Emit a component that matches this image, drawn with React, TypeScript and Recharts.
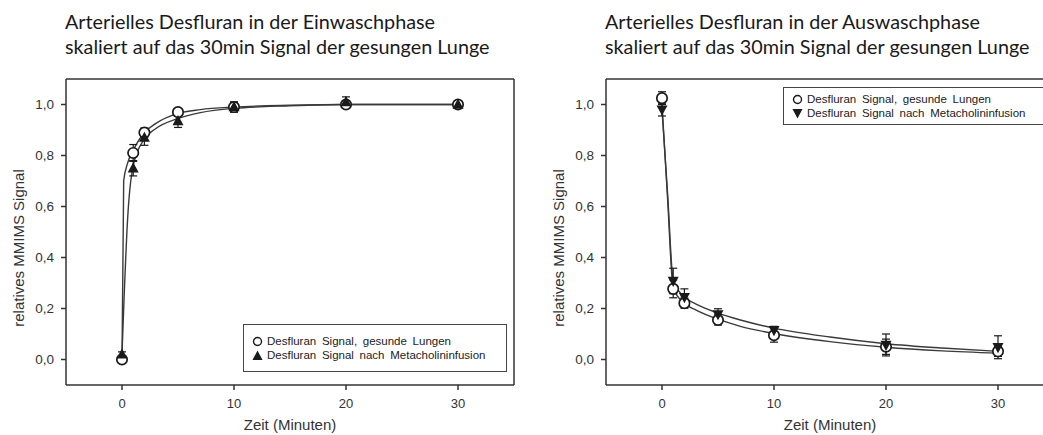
import React from "react";
import {
    ComposedChart,
    Line,
    Scatter,
    XAxis,
    YAxis,
    ErrorBar,
    ReferenceLine,
} from "recharts";

// Messzeitpunkte (Minuten)
const zeit = [0, 1, 2, 5, 10, 20, 30];

// Einwaschphase
const einGesund = [0.0, 0.81, 0.89, 0.97, 0.99, 1.0, 1.0];
const einGesundErr = [0.01, 0.033, 0.018, 0.012, 0.02, 0.012, 0.008];
const einMetacholin = [0.02, 0.75, 0.87, 0.935, 0.99, 1.01, 1.0];
const einMetacholinErr = [0.01, 0.03, 0.03, 0.025, 0.02, 0.02, 0.008];

// Auswaschphase
const ausGesund = [1.025, 0.277, 0.221, 0.155, 0.095, 0.05, 0.032];
const ausGesundErr = [0.025, 0.035, 0.02, 0.02, 0.027, 0.03, 0.02];
const ausMetacholin = [0.98, 0.308, 0.244, 0.177, 0.115, 0.057, 0.048];
const ausMetacholinErr = [0.025, 0.05, 0.033, 0.022, 0.015, 0.043, 0.045];

// Regressionskurven
const fitZeitEin = [0, 0.15, 0.5, 1, 2, 3, 5, 7, 10, 15, 20, 30];
const fitEinGesund = [0.0, 0.7, 0.77, 0.82, 0.89, 0.925, 0.965, 0.98, 0.99, 0.997, 1.0, 1.0];
const fitEinMetacholin = [0.02, 0.2, 0.55, 0.76, 0.865, 0.905, 0.945, 0.968, 0.985, 0.995, 1.0, 1.0];

const fitZeitAus = [0, 0.5, 1, 2, 3, 5, 7, 10, 15, 20, 25, 30];
const fitAusGesund = [1.0, 0.63, 0.28, 0.22, 0.195, 0.158, 0.13, 0.102, 0.07, 0.048, 0.034, 0.025];
const fitAusMetacholin = [0.98, 0.65, 0.31, 0.245, 0.218, 0.182, 0.155, 0.123, 0.088, 0.062, 0.045, 0.032];

const xTicks = [0, 10, 20, 30];
const yTicks = [0, 0.2, 0.4, 0.6, 0.8, 1.0];

const legendGesund = "Desfluran Signal, gesunde Lungen";
const legendMetacholin = "Desfluran Signal nach Metacholininfusion";

const rows = (xs: number[], ys: number[], es?: number[]) =>
    xs.map((t, i) => ({ t, v: ys[i], e: es ? es[i] : 0 }));

const INK = "#1a1a1a";
const AXIS_FONT = "'Liberation Sans', Arial, sans-serif";

const OpenCircle = (p: any) => (
    <circle cx={p.cx} cy={p.cy} r={5.2} fill="#fff" stroke={INK} strokeWidth={1.7} />
);
const TriUp = (p: any) => (
    <path d={`M${p.cx},${p.cy - 6} L${p.cx + 5.5},${p.cy + 4.2} L${p.cx - 5.5},${p.cy + 4.2} Z`} fill={INK} />
);
const TriDown = (p: any) => (
    <path d={`M${p.cx},${p.cy + 6} L${p.cx + 5.5},${p.cy - 4.2} L${p.cx - 5.5},${p.cy - 4.2} Z`} fill={INK} />
);

function LegendBox({ style, down }: { style: React.CSSProperties; down?: boolean }) {
    const sym = (kind: string) => (
        <svg width={11} height={11} style={{ marginRight: 4, flex: "none" }}>
            {kind === "o" && <circle cx={5.5} cy={5.5} r={4} fill="#fff" stroke={INK} strokeWidth={1.4} />}
            {kind === "up" && <path d="M5.5,0.5 L10.5,10 L0.5,10 Z" fill={INK} />}
            {kind === "down" && <path d="M5.5,10.5 L10.5,1 L0.5,1 Z" fill={INK} />}
        </svg>
    );
    return (
        <div
            style={{
                position: "absolute",
                border: "1.5px solid #444",
                background: "#fff",
                boxSizing: "border-box",
                fontFamily: AXIS_FONT,
                fontSize: 11.5,
                color: "#222",
                wordSpacing: 2.5,
                ...style,
            }}
        >
            <div style={{ display: "flex", alignItems: "center", height: 14 }}>
                {sym("o")}
                {legendGesund}
            </div>
            <div style={{ display: "flex", alignItems: "center", height: 14 }}>
                {sym(down ? "down" : "up")}
                {legendMetacholin}
            </div>
        </div>
    );
}

function Panel({
    left,
    title,
    healthy,
    meta,
    fitHealthy,
    fitMeta,
    Marker,
}: {
    left: number;
    title: string[];
    healthy: any[];
    meta: any[];
    fitHealthy: any[];
    fitMeta: any[];
    Marker: (p: any) => React.ReactElement;
}) {
    return (
        <div style={{ position: "absolute", left, top: 0, width: 520, height: 435 }}>
            <div
                style={{
                    position: "absolute",
                    left: 65,
                    top: 9,
                    fontFamily: "Lato, 'Open Sans', sans-serif",
                    fontSize: 19.8,
                    lineHeight: "25px",
                    color: "#1a1a1a",
                    whiteSpace: "nowrap",
                }}
            >
                {title.map((l) => (
                    <div key={l}>{l}</div>
                ))}
            </div>
            <ComposedChart
                width={520}
                height={435}
                margin={{ top: 79, right: 6, left: 0, bottom: 20 }}
                style={{ position: "absolute", left: 0, top: 0 }}
            >
                <XAxis
                    type="number"
                    dataKey="t"
                    domain={[-5, 35]}
                    ticks={xTicks}
                    allowDataOverflow
                    height={30}
                    tickSize={5}
                    tickMargin={9}
                    stroke="#333"
                    strokeWidth={1.5}
                    tick={{ fill: "#333", fontSize: 13, fontFamily: AXIS_FONT }}
                    label={{
                        value: "Zeit (Minuten)",
                        position: "bottom",
                        offset: 4,
                        fill: "#333",
                        fontSize: 15,
                        fontFamily: AXIS_FONT,
                    }}
                />
                <YAxis
                    type="number"
                    dataKey="v"
                    domain={[-0.1, 1.1]}
                    ticks={yTicks}
                    allowDataOverflow
                    width={66}
                    tickSize={5}
                    tickMargin={7}
                    stroke="#333"
                    strokeWidth={1.5}
                    tickFormatter={(v: number) => v.toFixed(1).replace(".", ",")}
                    tick={{ fill: "#333", fontSize: 13.5, fontFamily: AXIS_FONT }}
                    label={(p: any) => {
                        const vb = p.viewBox;
                        const x = vb.x + vb.width - 48;
                        const y = vb.y + vb.height / 2 + 16;
                        return (
                            <text
                                x={x}
                                y={y}
                                transform={`rotate(-90, ${x}, ${y})`}
                                textAnchor="middle"
                                dominantBaseline="central"
                                fill="#333"
                                fontSize={15}
                                fontFamily={AXIS_FONT}
                            >
                                relatives MMIMS Signal
                            </text>
                        );
                    }}
                />
                <ReferenceLine y={1.1} stroke="#333" strokeWidth={1.5} />
                <ReferenceLine x={35} stroke="#333" strokeWidth={1.5} />
                <Line
                    data={fitMeta}
                    dataKey="v"
                    type="monotone"
                    stroke="#3a3a3a"
                    strokeWidth={1.4}
                    dot={false}
                    isAnimationActive={false}
                />
                <Line
                    data={fitHealthy}
                    dataKey="v"
                    type="monotone"
                    stroke="#3a3a3a"
                    strokeWidth={1.4}
                    dot={false}
                    isAnimationActive={false}
                />
                <Scatter data={healthy} dataKey="v" shape={OpenCircle} isAnimationActive={false}>
                    <ErrorBar dataKey="e" direction="y" width={4} stroke={INK} strokeWidth={1.2} />
                </Scatter>
                <Scatter data={meta} dataKey="v" shape={Marker} isAnimationActive={false}>
                    <ErrorBar dataKey="e" direction="y" width={4} stroke={INK} strokeWidth={1.2} />
                </Scatter>
            </ComposedChart>
        </div>
    );
}

export default function App() {
    return (
        <div
            style={{
                position: "absolute",
                left: 0,
                top: 0,
                width: 1043,
                height: 435,
                overflow: "hidden",
                background: "#fff",
            }}
        >
            <Panel
                left={0}
                title={[
                    "Arterielles Desfluran in der Einwaschphase",
                    "skaliert auf das 30min Signal der gesungen Lunge",
                ]}
                healthy={rows(zeit, einGesund, einGesundErr)}
                meta={rows(zeit, einMetacholin, einMetacholinErr)}
                fitHealthy={rows(fitZeitEin, fitEinGesund)}
                fitMeta={rows(fitZeitEin, fitEinMetacholin)}
                Marker={TriUp}
            />
            <Panel
                left={540}
                title={[
                    "Arterielles Desfluran in der Auswaschphase",
                    "skaliert auf das 30min Signal der gesungen Lunge",
                ]}
                healthy={rows(zeit, ausGesund, ausGesundErr)}
                meta={rows(zeit, ausMetacholin, ausMetacholinErr)}
                fitHealthy={rows(fitZeitAus, fitAusGesund)}
                fitMeta={rows(fitZeitAus, fitAusMetacholin)}
                Marker={TriDown}
            />
            <LegendBox style={{ left: 243, top: 324, width: 264, height: 48, padding: "9px 0 0 8px" }} />
            <LegendBox down style={{ left: 783, top: 87, width: 262, height: 38, padding: "4px 0 0 8px" }} />
        </div>
    );
}
